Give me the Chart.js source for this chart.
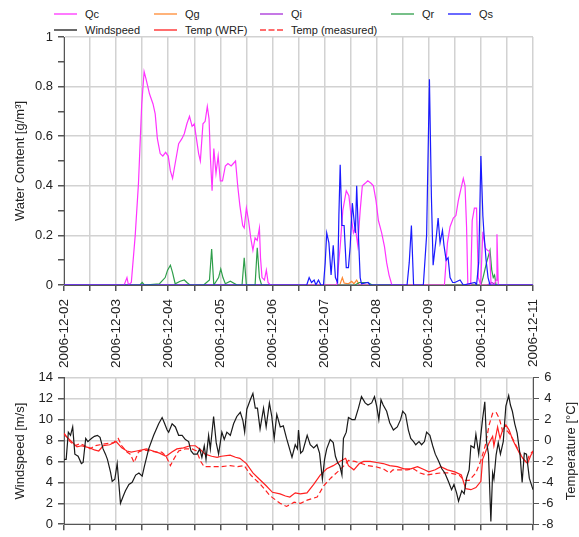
<!DOCTYPE html>
<html>
<head>
<meta charset="utf-8">
<script src="https://cdn.jsdelivr.net/npm/chart.js@4.4.0/dist/chart.umd.min.js"></script>
<style>
    body { margin: 0; background: #fff; }
    #wrap { position: relative; width: 579px; height: 537px; font-family: "Liberation Sans", Arial, sans-serif; }
    #wrap canvas { position: absolute; left: 0; }
    .lg { position: absolute; font-size: 11px; color: #222; white-space: nowrap; line-height: 14px; }
    .lg span { display: inline-block; width: 23px; height: 0; vertical-align: middle; margin-right: 8px; margin-top: -2px; }
    #rightTitle { position: absolute; left: 471px; top: 443px; width: 200px; height: 16px; line-height: 16px;
        text-align: center; font-size: 13px; color: #222; transform: rotate(-90deg); transform-origin: 50% 50%; white-space: nowrap; }
</style>
</head>
<body>
<div id="wrap">
    <div id="legend"></div>
    <canvas id="topChart" width="579" height="372" style="top:0"></canvas>
    <canvas id="bottomChart" width="579" height="172" style="top:365px"></canvas>
    <div id="rightTitle">Temperature [°C]</div>
</div>
<script>
// x values are hours since 2006-12-02 00:00
const dayLabels = ["2006-12-02", "2006-12-03", "2006-12-04", "2006-12-05", "2006-12-06",
    "2006-12-07", "2006-12-08", "2006-12-09", "2006-12-10", "2006-12-11"];

const qcHours = [
    0, 27.7, 29, 29.7, 31, 32.8, 34.3, 35.8, 36.9, 37.8,
    39.4, 41, 42, 43, 44.3, 45.5, 46.8, 48, 49, 50,
    51.2, 52.8, 54.3, 55.4, 56.6, 57.8, 59, 60, 61, 62,
    62.8, 64, 65, 66, 66.8, 67.4, 68.2, 69, 70, 71,
    72, 73, 74.3, 75.5, 77, 78, 79, 80, 81, 82.3,
    83, 84, 85, 86, 87, 88, 89, 90, 90.5, 91.2,
    92.3, 93.2, 94, 95, 125.6, 127.2, 128.4, 130, 131.2, 132.2,
    133.3, 134.2, 135.3, 136.4, 137.4, 138.7, 139.9, 141.4, 142.5, 143.7,
    144.8, 146.3, 147.6, 148.6, 149.7, 151, 175.2, 176.6, 177.8, 179.3,
    180.5, 181.6, 182.6, 183.9, 184.7, 185.4, 186, 187.3, 188, 189,
    190, 190.8, 191.9, 192.9, 194, 195, 196, 196.7, 198, 199,
    199.4, 200, 216];
const qcValues = [
    0, 0, 0.03, 0, 0.01, 0.2, 0.41, 0.73, 0.86, 0.83,
    0.77, 0.73, 0.69, 0.59, 0.53, 0.52, 0.535, 0.52, 0.46, 0.43,
    0.49, 0.57, 0.59, 0.61, 0.65, 0.68, 0.64, 0.65, 0.59, 0.53,
    0.50, 0.65, 0.66, 0.72, 0.67, 0.52, 0.38, 0.55, 0.45, 0.52,
    0.42, 0.42, 0.48, 0.49, 0.48, 0.49, 0.50, 0.40, 0.32, 0.24,
    0.23, 0.31, 0.26, 0.19, 0.14, 0.19, 0.18, 0.23, 0.11, 0.03,
    0.02, 0.06, 0.01, 0, 0, 0.155, 0.30, 0.38, 0.36, 0.28,
    0.21, 0.23, 0.16, 0.30, 0.40, 0.41, 0.42, 0.41, 0.40, 0.34,
    0.26, 0.21, 0.155, 0.09, 0.04, 0, 0, 0.17, 0.235, 0.27,
    0.28, 0.34, 0.38, 0.43, 0.40, 0.235, 0, 0, 0.26, 0.31,
    0.31, 0.03, 0, 0.215, 0.15, 0.14, 0.135, 0, 0, 0.02,
    0.205, 0, 0];

const qgHours = [0, 127, 128.2, 129, 131, 132.5, 133.5, 134.8, 136, 216];
const qgValues = [0, 0, 0.03, 0.008, 0.005, 0.015, 0.005, 0.02, 0, 0];

const qiHours = [0, 195, 197, 199, 216];
const qiValues = [0, 0, 0.01, 0, 0];

const qrHours = [
    0, 35, 36, 37, 44, 46.6, 47.7, 49, 50, 51.2,
    53.5, 55.4, 56.6, 58, 64.3, 67, 68, 69, 71.2, 72.2,
    73.2, 74.3, 76.6, 79.7, 82, 83, 84, 88, 89, 90,
    91, 134, 136, 140, 142, 192, 193, 194.6, 196.2, 197,
    197.7, 198.3, 199, 216];
const qrValues = [
    0, 0, 0.01, 0, 0.005, 0.03, 0.06, 0.08, 0.05, 0.005,
    0.015, 0.02, 0.01, 0, 0, 0.02, 0.145, 0, 0.03, 0.065,
    0.03, 0.005, 0.015, 0, 0, 0.11, 0, 0, 0.15, 0.03,
    0, 0, 0.01, 0.01, 0, 0, 0.03, 0.09, 0.14, 0.06,
    0.03, 0.04, 0, 0];

const qsHours = [
    0, 111.8, 112.9, 114, 115.2, 116, 117.2, 118.3, 119.5, 120.3,
    121, 122, 123, 124, 125, 126, 126.6, 127.2, 128, 129,
    130, 131, 131.8, 132.8, 133.6, 134.2, 134.8, 135.6, 136.4, 137,
    140, 141, 158, 159, 160, 161, 165.5, 167, 168.3, 169.2,
    170, 171.3, 172.3, 173.2, 174.3, 175, 176, 176.9, 177.8, 179,
    180, 182.4, 183.9, 189.3, 190, 191, 192, 192.9, 193.4, 194.4,
    195.3, 196.2, 216];
const qsValues = [
    0, 0, 0.03, 0.01, 0.02, 0, 0.02, 0, 0, 0.09,
    0.21, 0.17, 0.04, 0.16, 0.03, 0.01, 0.28, 0.485, 0.24, 0.24,
    0.07, 0.07, 0.155, 0.33, 0.26, 0.21, 0.40, 0.20, 0.03, 0.005,
    0.01, 0, 0, 0.09, 0.24, 0, 0, 0.2, 0.83, 0.36,
    0.08, 0.18, 0.27, 0.17, 0.22, 0.16, 0.10, 0.11, 0.03, 0.01,
    0.01, 0.02, 0, 0.01, 0, 0.09, 0.52, 0.28, 0.21, 0.10,
    0.03, 0, 0];

const windHours = [
    0, 1, 2, 3, 4, 5, 6.5, 8, 8.8, 10,
    11, 12.6, 14, 15.4, 16.6, 18, 19.1, 20, 21.4, 22.2,
    23.4, 24.5, 25.3, 26, 27.3, 28.3, 29.9, 31.4, 33, 34.5,
    36, 37.1, 39, 41.3, 43.6, 45.2, 46.2, 47.5, 48.2, 49.8,
    51.3, 52.8, 54.4, 55.9, 57.4, 58.5, 59.7, 61.3, 62.5, 63.5,
    64.6, 65.4, 66.6, 67.4, 68.9, 70.1, 71.2, 72.7, 73.8, 75,
    76.6, 78.1, 79.6, 81.2, 82.4, 83.2, 84.2, 85.8, 87, 88.1,
    89.1, 90.3, 91.9, 93.1, 94.6, 95.7, 96.8, 98, 99.6, 101,
    102.5, 105, 106.5, 107.5, 108, 109, 110, 112, 113.4, 115,
    116.5, 117.7, 119, 120, 121, 122.6, 124, 125, 126, 127,
    128, 128.7, 130, 131, 132.6, 134, 135.6, 137, 138.7, 140,
    141.7, 143, 144, 145, 146, 147, 148.6, 150, 151.7, 153.5,
    155, 156, 157.3, 158.6, 159.7, 161, 162, 163.5, 164.7, 166,
    167, 168.5, 169.8, 171, 172.4, 174, 175.4, 177, 178.5, 179.6,
    180.8, 181.7, 183.2, 184.3, 185.4, 186.6, 187.4, 188.9, 189.7, 191,
    192.8, 193.8, 194.6, 195.5, 196.6, 197.4, 198, 199, 200, 201,
    202.3, 203.5, 204.8, 205.6, 206.5, 207.6, 208.7, 210, 211, 212,
    213, 214.3, 216];
const windValues = [
    6.2, 6.2, 8.8, 8.5, 9.3, 6.7, 6.5, 5.8, 5.9, 8.2,
    7.9, 8.2, 8.4, 8.5, 8.3, 7.2, 6.7, 6.2, 5.0, 4.1,
    4.3, 5.8, 3.8, 2.0, 2.7, 3.2, 3.8, 4.0, 4.7, 4.9,
    4.6, 5.6, 7.2, 8.5, 9.6, 10.2, 9.7, 9.0, 8.8, 9.6,
    9.3, 8.5, 8.5, 8.1, 7.9, 7.0, 6.7, 6.7, 7.2, 6.4,
    7.5, 6.2, 8.5, 7.2, 10.3, 7.8, 6.7, 8.8, 8.1, 8.8,
    8.5, 9.6, 10.3, 10.7, 9.9, 8.8, 11.0, 11.9, 12.5, 11.1,
    11.1, 9.1, 11.1, 9.3, 11.6, 10.3, 8.2, 10.5, 9.3, 9.4,
    8.2, 6.4, 7.6, 7.2, 9.0, 6.8, 7.0, 8.5, 7.6, 7.3,
    7.6, 6.8, 4.3, 6.2, 7.2, 8.1, 7.8, 6.5, 5.9, 5.6,
    4.7, 8.2, 8.8, 10.2, 10.0, 10.0, 11.1, 12.2, 11.6, 11.4,
    11.6, 12.2, 11.3, 10.0, 11.9, 11.4, 10.8, 9.7, 9.0, 9.3,
    10.0, 10.8, 10.5, 9.0, 8.2, 7.9, 7.6, 7.9, 7.6, 7.9,
    8.8, 8.5, 7.5, 6.7, 6.1, 5.3, 4.9, 4.1, 3.3, 3.8,
    3.0, 2.2, 3.2, 2.9, 4.4, 5.2, 7.5, 7.3, 8.6, 6.7,
    10.1, 11.7, 7.9, 6.7, 0.25, 4.9, 4.3, 6.6, 7.8, 6.7,
    7.9, 11.3, 12.3, 11.4, 10.8, 9.6, 8.7, 6.7, 4.0, 6.8,
    6.7, 4.4, 3.3];

const wrfHours = [
    0, 2, 4, 6, 8, 10, 12, 14, 16, 18,
    21, 24, 26.6, 29, 31, 33.5, 36, 38, 41, 44,
    47, 49.7, 52, 55, 58, 60.5, 63, 65, 68, 70.5,
    72.5, 76.5, 79, 81, 84, 87, 90, 93, 96, 99.5,
    102, 104, 106.5, 108.8, 111.9, 115, 118, 121, 124, 127,
    129.7, 131, 133.5, 136, 138, 141, 144, 147, 150, 153.5,
    156.6, 159.7, 162.8, 166, 168, 171, 173.5, 176.6, 180, 183,
    185, 187.4, 189.7, 192, 192.8, 194.3, 195.8, 197.4, 198, 199.7,
    200.8, 202, 203.5, 205, 206.6, 208, 210, 212, 213.5, 215,
    216];
const wrfTemp = [
    0.6, 0.2, -0.2, -0.6, -0.5, -0.6, -0.7, -0.9, -1.0, -0.5,
    -0.4, -0.1, -0.7, -1.0, -1.1, -1.0, -0.9, -0.8, -1.0, -1.2,
    -1.5, -1.1, -0.8, -0.7, -0.5, -0.5, -0.9, -1.3, -1.5, -1.6,
    -1.5, -1.4, -1.6, -1.7, -2.2, -3.1, -3.7, -4.3, -4.95, -5.1,
    -5.3, -5.4, -5.0, -5.1, -5.0, -4.2, -3.3, -2.7, -2.4, -2.0,
    -1.7, -2.4, -2.8, -2.2, -2.0, -2.0, -2.1, -2.2, -2.4, -2.5,
    -2.7, -2.7, -2.5, -2.8, -3.0, -2.8, -2.5, -2.8, -3.0, -3.3,
    -4.6, -4.7, -4.5, -3.9, -1.8, -1.0, -0.2, 0.4, -0.5, 1.3,
    0.2, 1.0, 1.5, 1.0, 0.1, -0.5, -1.3, -1.9, -2.2, -1.4,
    -1.1];

const measHours = [
    0, 2.8, 5, 7.4, 9.7, 12, 14.3, 16.6, 19.7, 22.8,
    25, 26.6, 29, 30.5, 32.3, 34.3, 36.6, 39.7, 42.8, 45,
    47, 49, 50.5, 52.8, 55.8, 59, 61, 63, 64.5, 67,
    72, 76.5, 80, 83, 86, 90.5, 95, 99.5, 102.5, 106,
    109, 112, 116.6, 119.7, 122.8, 126, 129, 131, 134, 137,
    140, 143.5, 147, 150, 151.5, 155, 158, 161, 164, 167,
    170, 173.5, 177.4, 182, 184.3, 186.6, 189.7, 192, 194, 195.8,
    197.4, 199, 200.5, 202, 204.3, 206.6, 209, 211, 213, 214.3,
    216];
const measTemp = [
    0.7, -0.1, -0.5, -0.3, -0.5, -0.8, -0.5, -0.4, -0.3, -0.2,
    0.2, -0.5, -1.1, -1.3, -2.1, -1.1, -0.9, -1.0, -1.1, -1.1,
    -1.5, -2.4, -1.8, -1.0, -0.8, -0.8, -1.0, -2.0, -2.5, -2.5,
    -2.5, -2.4, -2.5, -2.4, -3.3, -4.2, -5.3, -6.0, -6.3, -5.9,
    -6.0, -5.7, -5.4, -4.3, -3.6, -3.0, -2.4, -1.9, -2.0, -2.2,
    -2.4, -2.5, -2.7, -3.1, -2.8, -2.8, -2.8, -2.7, -3.1, -3.3,
    -3.2, -3.1, -3.1, -3.3, -3.8, -3.8, -3.1, -1.9, -0.5, 1.5,
    2.6, 2.7, 2.1, 0.9, 0.9, 0.2, -0.8, -1.6, -2.1, -1.4,
    -1.0];

const COLORS = {
    qc: "#ff33ff", qg: "#ff8a33", qi: "#a830d8", qr: "#2e9e4a", qs: "#1a1aff",
    wind: "#1a1a1a", temp: "#ff2020"
};
const GRID = "#d2d2d2";
const AXIS = "#555";
const TEXT = "#222";
const FONT = "'Liberation Sans', Arial, sans-serif";

function toPoints(hours, values) {
    return hours.map((h, i) => ({ x: h, y: values[i] }));
}

function line(label, hours, values, color, extra) {
    return Object.assign({
        label: label,
        data: toPoints(hours, values),
        borderColor: color,
        backgroundColor: color,
        borderWidth: 1.2,
        pointRadius: 0,
        tension: 0,
        fill: false,
    }, extra || {});
}

// legend (two rows, same layout as the reference)
const legendItems = [
    { text: "Qc", color: COLORS.qc, left: 54, top: 7 },
    { text: "Qg", color: COLORS.qg, left: 154, top: 7 },
    { text: "Qi", color: COLORS.qi, left: 260, top: 7 },
    { text: "Qr", color: COLORS.qr, left: 391, top: 7 },
    { text: "Qs", color: COLORS.qs, left: 448, top: 7 },
    { text: "Windspeed", color: COLORS.wind, left: 54, top: 23 },
    { text: "Temp (WRF)", color: COLORS.temp, left: 154, top: 23 },
    { text: "Temp (measured)", color: COLORS.temp, left: 260, top: 23, dashed: true },
];
const legendEl = document.getElementById("legend");
legendItems.forEach(item => {
    const div = document.createElement("div");
    div.className = "lg";
    div.style.left = item.left + "px";
    div.style.top = item.top + "px";
    const sw = document.createElement("span");
    sw.style.borderTop = "2px " + (item.dashed ? "dashed " : "solid ") + item.color;
    sw.style.opacity = "0.65";
    div.appendChild(sw);
    div.appendChild(document.createTextNode(item.text));
    legendEl.appendChild(div);
});

Chart.defaults.font.family = FONT;
Chart.defaults.color = TEXT;

const xCommon = {
    type: "linear",
    min: 0,
    max: 216,
    border: { color: AXIS, width: 1 },
    grid: { color: GRID, lineWidth: 1.5, tickLength: 6, tickColor: AXIS },
};

function evenOnly(step) {
    return ctx => (Math.round(ctx.tick.value / step) % 2 === 0 ? GRID : "rgba(0,0,0,0)");
}

new Chart(document.getElementById("topChart"), {
    type: "line",
    data: {
        datasets: [
            line("Qs", qsHours, qsValues, COLORS.qs, { order: 1 }),
            line("Qc", qcHours, qcValues, COLORS.qc, { order: 2 }),
            line("Qr", qrHours, qrValues, COLORS.qr, { order: 3 }),
            line("Qi", qiHours, qiValues, COLORS.qi, { order: 4 }),
            line("Qg", qgHours, qgValues, COLORS.qg, { order: 5 }),
        ]
    },
    options: {
        responsive: false,
        animation: false,
        layout: { padding: { top: 37, right: 46, left: 0, bottom: 0 } },
        plugins: { legend: { display: false }, tooltip: { enabled: false } },
        scales: {
            x: Object.assign({}, xCommon, {
                ticks: {
                    stepSize: 12,
                    autoSkip: false,
                    minRotation: 90,
                    maxRotation: 90,
                    padding: 8,
                    font: { size: 13.5 },
                    callback: v => (v % 24 === 0 ? dayLabels[v / 24] : ""),
                },
                afterFit: s => { s.height = 87; },
            }),
            y: {
                min: 0,
                max: 1,
                border: { color: AXIS, width: 1 },
                grid: { color: evenOnly(0.1), lineWidth: 1.5, tickLength: 6, tickColor: AXIS },
                ticks: {
                    stepSize: 0.1,
                    padding: 5,
                    font: { size: 13 },
                    callback: v => {
                        const k = Math.round(v * 10);
                        if (k % 2 !== 0) return "";
                        return k === 0 ? "0" : k === 10 ? "1" : (k / 10).toFixed(1);
                    },
                },
                title: { display: true, text: "Water Content [g/m³]", font: { size: 13 }, padding: { top: 13, bottom: 0 } },
                afterFit: s => { s.width = 64; },
            },
        },
    },
});

new Chart(document.getElementById("bottomChart"), {
    type: "line",
    data: {
        datasets: [
            line("Windspeed", windHours, windValues, COLORS.wind, { yAxisID: "y", order: 1 }),
            line("Temp (WRF)", wrfHours, wrfTemp, COLORS.temp, { yAxisID: "y2", order: 2 }),
            line("Temp (measured)", measHours, measTemp, COLORS.temp, { yAxisID: "y2", order: 3, borderDash: [5, 3] }),
        ]
    },
    options: {
        responsive: false,
        animation: false,
        layout: { padding: { top: 10, right: 0, left: 0, bottom: 0 } },
        plugins: { legend: { display: false }, tooltip: { enabled: false } },
        scales: {
            x: Object.assign({}, xCommon, {
                ticks: { stepSize: 12, autoSkip: false, display: false },
                afterFit: s => { s.height = 9; },
            }),
            y: {
                position: "left",
                min: 0,
                max: 14,
                border: { color: AXIS, width: 1 },
                grid: { color: evenOnly(1), lineWidth: 1.5, tickLength: 6, tickColor: AXIS },
                ticks: {
                    stepSize: 1,
                    padding: 5,
                    font: { size: 13 },
                    callback: v => (v % 2 === 0 ? String(v) : ""),
                },
                title: { display: true, text: "Windspeed [m/s]", font: { size: 13 }, padding: { top: 13, bottom: 0 } },
                afterFit: s => { s.width = 64; },
            },
            // right axis title is the rotated HTML label (#rightTitle), reading upwards like the reference
            y2: {
                position: "right",
                min: -8,
                max: 6,
                border: { color: AXIS, width: 1 },
                grid: { drawOnChartArea: false, tickLength: 6, tickColor: AXIS },
                ticks: {
                    stepSize: 1,
                    padding: 3,
                    crossAlign: "center",
                    font: { size: 13 },
                    callback: v => (v % 2 === 0 ? String(v) : ""),
                },
                afterFit: s => { s.width = 46; },
            },
        },
    },
});
</script>
</body>
</html>
